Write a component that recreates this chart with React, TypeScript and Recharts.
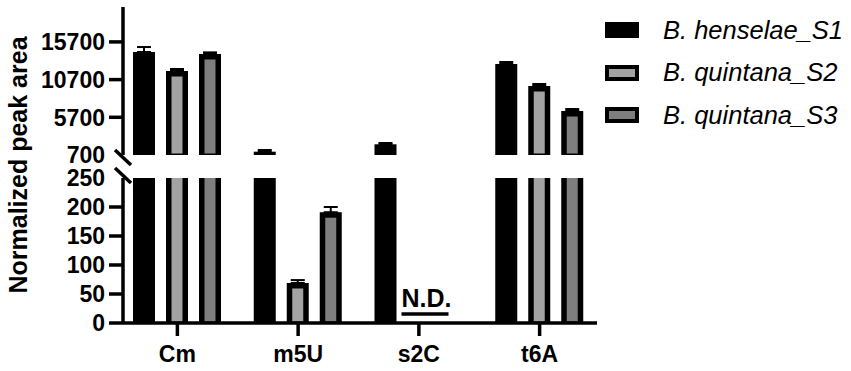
import React from 'react';
import { BarChart, Bar, XAxis, YAxis, ErrorBar, LabelList } from 'recharts';

const categories = ['Cm', 'm5U', 's2C', 't6A'];
const henselaeS1 = [14360, 1140, 2120, 12770];
const quintanaS2 = [11840, 69, 0, 9850];
const quintanaS3 = [14100, 191, 0, 6535];
const errS1 = [660, 225, 170, 265];
const errS2 = [265, 5, 0, 265];
const errS3 = [210, 9, 0, 265];

const upperTicks = [700, 5700, 10700, 15700];
const lowerTicks = [0, 50, 100, 150, 200, 250];
// break marks sit on the ticks at the edges of the gap, nudged toward each other
const breakShift: Record<number, number> = { 700: 2.5, 250: -2.5 };

const series = [
  { key: 's1', name: 'B. henselae_S1', inner: '#000000', values: henselaeS1, errs: errS1 },
  { key: 's2', name: 'B. quintana_S2', inner: '#a3a3a3', values: quintanaS2, errs: errS2 },
  { key: 's3', name: 'B. quintana_S3', inner: '#7e7e7e', values: quintanaS3, errs: errS3 },
];

const UPPER_MIN = 700;
const UPPER_MAX = 20330;
const LOWER_MAX = 250;

const FONT = '"Liberation Sans", Arial, Helvetica, sans-serif';
const TICK_SIZE = 14;
const TICK_MARGIN = 4;
const AXIS_W = 3.5;

const upperData = categories.map((name, i) => {
  const row: any = { name };
  series.forEach((s) => {
    const ok = s.values[i] >= UPPER_MIN;
    row[s.key] = ok ? s.values[i] : null;
    row[s.key + 'e'] = ok && s.errs[i] ? [0, s.errs[i]] : null;
  });
  return row;
});

const lowerData = categories.map((name, i) => {
  const row: any = { name };
  series.forEach((s) => {
    row[s.key] = s.values[i];
    row[s.key + 'e'] = s.values[i] <= LOWER_MAX && s.errs[i] ? [0, s.errs[i]] : null;
  });
  return row;
});

const FramedBar = (props: any) => {
  const { x, y, width, height, inner } = props;
  if (!height || height <= 0) return null;
  const b = 5.5;
  const iw = width - 2 * b;
  const ih = height - b - 1.5;
  return (
    <g>
      <rect x={x} y={y} width={width} height={height} fill="#000" />
      {inner !== '#000000' && iw > 0 && ih > 0 && (
        <rect x={x + b} y={y + b} width={iw} height={ih} fill={inner} />
      )}
    </g>
  );
};

const YTick = (props: any) => {
  const { x, y, payload } = props;
  const ax = x + TICK_MARGIN + TICK_SIZE;
  const shift = breakShift[payload.value];
  return (
    <g>
      {shift !== undefined ? (
        <line x1={ax - 8} y1={y + shift - 7.5} x2={ax + 8} y2={y + shift + 7.5} stroke="#000" strokeWidth={AXIS_W} />
      ) : (
        <line x1={ax - TICK_SIZE} y1={y} x2={ax} y2={y} stroke="#000" strokeWidth={AXIS_W} />
      )}
      <text x={x} y={y} dy="0.36em" textAnchor="end" fontFamily={FONT} fontWeight="bold" fontSize={23} fill="#000">
        {payload.value}
      </text>
    </g>
  );
};

const NDLabel = (props: any) => {
  const { x, y, value } = props;
  if (value !== 0) return null;
  return (
    <g>
      <text x={x - 6} y={y - 16} fontFamily={FONT} fontWeight="bold" fontSize={25} fill="#000">
        N.D.
      </text>
      <line x1={x - 6} y1={y - 9} x2={x + 41} y2={y - 9} stroke="#000" strokeWidth={3.5} />
    </g>
  );
};

const chartStyle: React.CSSProperties = { position: 'absolute', left: 0, top: 0 };
const xPadding = { left: -6, right: -3 };

export default function App() {
  return (
    <div style={{ position: 'absolute', left: 0, top: 0, width: 851, height: 371, background: '#fff', overflow: 'hidden' }}>
      {/* lower segment: 0 - 250 */}
      <div style={chartStyle}>
        <BarChart width={851} height={371} data={lowerData} margin={{ top: 178, right: 254, bottom: 0, left: 0 }} barSize={22} barGap={11}>
          <XAxis
            dataKey="name"
            padding={xPadding}
            height={48}
            tickSize={13}
            tickMargin={10}
            axisLine={{ stroke: '#000', strokeWidth: AXIS_W }}
            tickLine={{ stroke: '#000', strokeWidth: AXIS_W }}
            tick={{ fill: '#000', fontSize: 23, fontWeight: 'bold', fontFamily: FONT }}
          />
          <YAxis
            width={123}
            domain={[0, LOWER_MAX]}
            ticks={lowerTicks}
            allowDataOverflow
            tickLine={false}
            tickSize={TICK_SIZE}
            tickMargin={TICK_MARGIN}
            axisLine={{ stroke: '#000', strokeWidth: AXIS_W }}
            tick={<YTick />}
          />
          {series.map((s) => (
            <Bar key={s.key} dataKey={s.key} name={s.name} isAnimationActive={false}
              shape={(p: any) => <FramedBar {...p} inner={s.inner} />}>
              <ErrorBar dataKey={s.key + 'e'} width={7} strokeWidth={2} stroke="#000" direction="y" />
              {s.key === 's2' && <LabelList dataKey={s.key} content={<NDLabel />} />}
            </Bar>
          ))}
        </BarChart>
      </div>
      {/* upper segment: 700 - top */}
      <div style={chartStyle}>
        <BarChart width={851} height={371} data={upperData} margin={{ top: 7, right: 254, bottom: 216, left: 0 }} barSize={22} barGap={11}>
          <XAxis dataKey="name" padding={xPadding} hide />
          <YAxis
            width={123}
            domain={[UPPER_MIN, UPPER_MAX]}
            ticks={upperTicks}
            allowDataOverflow
            tickLine={false}
            tickSize={TICK_SIZE}
            tickMargin={TICK_MARGIN}
            axisLine={{ stroke: '#000', strokeWidth: AXIS_W }}
            tick={<YTick />}
          />
          {series.map((s) => (
            <Bar key={s.key} dataKey={s.key} name={s.name} isAnimationActive={false}
              shape={(p: any) => <FramedBar {...p} inner={s.inner} />}>
              <ErrorBar dataKey={s.key + 'e'} width={7} strokeWidth={2} stroke="#000" direction="y" />
            </Bar>
          ))}
        </BarChart>
      </div>
      {/* y axis title */}
      <svg width={851} height={371} style={{ ...chartStyle, pointerEvents: 'none' }}>
        <text transform="translate(27,165) rotate(-90)" textAnchor="middle" fontFamily={FONT} fontWeight="bold" fontSize={25} fill="#000">
          Normalized peak area
        </text>
      </svg>
      {/* legend */}
      {series.map((s, i) => (
        <div key={s.key} style={{ position: 'absolute', left: 605, top: 30 + i * 42.5 - 15, height: 30, display: 'flex', alignItems: 'center' }}>
          <div style={{ width: 34, height: 16, boxSizing: 'border-box', background: s.inner, border: '4px solid #000' }} />
          <span style={{ marginLeft: 24, fontFamily: FONT, fontStyle: 'italic', fontSize: 25.5, color: '#000', whiteSpace: 'nowrap' }}>
            {s.name}
          </span>
        </div>
      ))}
    </div>
  );
}
